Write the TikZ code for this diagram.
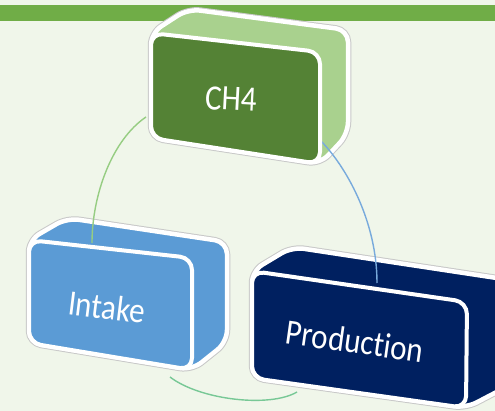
\documentclass[tikz,border=0pt]{standalone}
\usepackage{fontspec}
\newfontfamily\boxfont[Ligatures=NoCommon]{Carlito}
\definecolor{bgcol}{RGB}{240,246,234}
\definecolor{barcol}{HTML}{70AD47}
\definecolor{chfront}{HTML}{548235}
\definecolor{chside}{HTML}{A9D18E}
\definecolor{inblue}{HTML}{5B9BD5}
\definecolor{prodnavy}{HTML}{002060}
\definecolor{rimgray}{RGB}{200,200,200}
\definecolor{arcgreen}{RGB}{150,205,130}
\definecolor{arcblue}{RGB}{120,170,220}
\definecolor{arcmint}{RGB}{120,200,150}
\begin{document}
\begin{tikzpicture}[x=1pt,y=-1pt,
  rim/.style={draw=rimgray,line width=6.5pt,rounded corners=12pt,line join=round},
  body/.style={draw=white,line width=4.5pt,rounded corners=12pt,line join=round},
  face/.style={draw=white,line width=4pt,rounded corners=12pt,line join=round},
  lbl/.style={text=white,font=\boxfont\fontsize{31}{36}\selectfont,inner sep=0pt},
  link/.style={line width=1.4pt}]
\useasboundingbox (0,0) rectangle (495,411);
\clip (0,0) rectangle (495,411);
% background and title bar
\fill[bgcol] (0,0) rectangle (495,411);
\fill[barcol] (0,5) rectangle (495,21);

% extruded bodies (outer silhouettes)
\path[rim] (151,33) -- (188,9) -- (348,30) -- (348,134) -- (320,164) -- (151,138) -- cycle;
\path[body,fill=chside] (151,33) -- (188,9) -- (348,30) -- (348,134) -- (320,164) -- (151,138) -- cycle;

\path[rim] (29,240) -- (67,218) -- (227,242) -- (227,342) -- (192,370) -- (29,343) -- cycle;
\path[body,fill=inblue] (29,240) -- (67,218) -- (227,242) -- (227,342) -- (192,370) -- (29,343) -- cycle;

\path[rim] (252,271) -- (292,247) -- (510,280) -- (510,385) -- (466,408) -- (252,378) -- cycle;
\path[body,fill=prodnavy] (252,271) -- (292,247) -- (510,280) -- (510,385) -- (466,408) -- (252,378) -- cycle;

% connector end points
\coordinate (ch4w) at (146,117);
\coordinate (ch4e) at (320,140);
\coordinate (intn) at (92,243);
\coordinate (ints) at (170,377);
\coordinate (prodn) at (377,283);
\coordinate (prodw) at (297,392);

% cycle connectors
\draw[link,arcgreen] (ch4w) .. controls (112,140) and (92,195) .. (intn);
\draw[link,arcblue] (ch4e) .. controls (345,165) and (377,220) .. (prodn);
\draw[link,arcmint] (ints) .. controls (200,400) and (270,408) .. (prodw);

% front faces
\path[face,fill=chfront] (151,33) -- (320,52) -- (320,164) -- (151,138) -- cycle;
\path[face,fill=inblue] (29,240) -- (192,258) -- (192,370) -- (29,343) -- cycle;
\path[face,fill=prodnavy] (252,271) -- (467,302) -- (466,408) -- (252,378) -- cycle;

% labels
\node[lbl,rotate=-3,yscale=1.15] (ch4) at (231,99) {CH4};
\node[lbl,rotate=-7,yscale=1.15] (intake) at (107,307) {Intake};
\node[lbl,rotate=-8,yscale=1.15] (production) at (355,341) {Production};
\end{tikzpicture}
\end{document}
